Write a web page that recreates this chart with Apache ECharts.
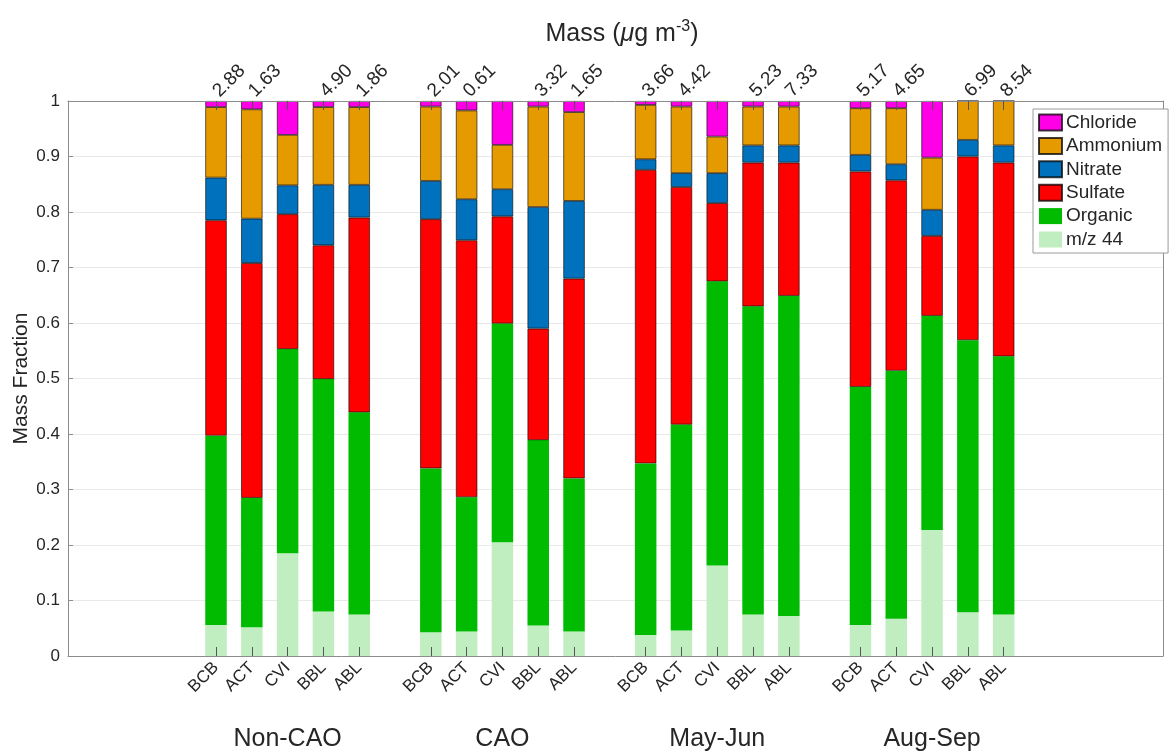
<!DOCTYPE html>
<html>
<head>
<meta charset="utf-8">
<script src="https://cdn.jsdelivr.net/npm/echarts@6/dist/echarts.min.js"></script>
<style>
html,body{margin:0;padding:0;background:#fff;}
#chart{width:1174px;height:751px;}
</style>
</head>
<body>
<div id="chart"></div>
<script>
// ---- data ----
const groups = ['Non-CAO', 'CAO', 'May-Jun', 'Aug-Sep'];
const sites = ['BCB', 'ACT', 'CVI', 'BBL', 'ABL'];
const massValues = [2.88, 1.63, null, 4.90, 1.86,
                    2.01, 0.61, null, 3.32, 1.65,
                    3.66, 4.42, null, 5.23, 7.33,
                    5.17, 4.65, null, 6.99, 8.54];
const mz44 = [0.056, 0.052, 0.185, 0.080, 0.075,
              0.043, 0.044, 0.205, 0.055, 0.044,
              0.038, 0.046, 0.163, 0.075, 0.072,
              0.056, 0.067, 0.227, 0.079, 0.075];
const organic = [0.341, 0.233, 0.368, 0.419, 0.364,
                 0.295, 0.242, 0.394, 0.334, 0.276,
                 0.309, 0.371, 0.512, 0.555, 0.577,
                 0.429, 0.447, 0.386, 0.490, 0.465];
const sulfate = [0.388, 0.423, 0.243, 0.241, 0.351,
                 0.449, 0.463, 0.193, 0.201, 0.360,
                 0.529, 0.428, 0.141, 0.259, 0.240,
                 0.388, 0.343, 0.144, 0.331, 0.349];
const nitrate = [0.077, 0.080, 0.052, 0.109, 0.059,
                 0.069, 0.074, 0.049, 0.219, 0.140,
                 0.019, 0.025, 0.054, 0.031, 0.031,
                 0.030, 0.029, 0.047, 0.030, 0.031];
const ammonium = [0.127, 0.197, 0.091, 0.140, 0.140,
                  0.134, 0.160, 0.080, 0.181, 0.160,
                  0.098, 0.120, 0.066, 0.070, 0.070,
                  0.084, 0.101, 0.094, 0.070, 0.080];
const chloride = [0.011, 0.015, 0.061, 0.011, 0.011,
                  0.010, 0.017, 0.079, 0.010, 0.020,
                  0.007, 0.010, 0.064, 0.010, 0.010,
                  0.013, 0.013, 0.102, 0.000, 0.000];
const yTicks = ['0', '0.1', '0.2', '0.3', '0.4', '0.5', '0.6', '0.7', '0.8', '0.9', '1'];

// ---- layout helpers ----
const FONT = '"Liberation Sans", Arial, Helvetica, sans-serif';
const TXT = '#262626';
const XMIN = -3.134, XMAX = 27.45;
const xPos = [];
const xLabel = {};
const xMass = {};
groups.forEach((g, gi) => sites.forEach((s, si) => {
  const x = gi * 6 + si + 1;
  const k = gi * sites.length + si;
  xPos.push(x);
  xLabel[x] = s;
  xMass[x] = massValues[k] == null ? '' : massValues[k].toFixed(2);
}));
const groupPos = groups.map((g, gi) => gi * 6 + 3);
const groupLabel = {};
groups.forEach((g, gi) => { groupLabel[gi * 6 + 3] = g; });

const seriesDefs = [
  { name: 'm/z 44', data: mz44, color: '#c1eec1', border: false },
  { name: 'Organic', data: organic, color: '#00bb00', border: false },
  { name: 'Sulfate', data: sulfate, color: '#ff0000', border: true },
  { name: 'Nitrate', data: nitrate, color: '#0072bd', border: true },
  { name: 'Ammonium', data: ammonium, color: '#e59a00', border: true },
  { name: 'Chloride', data: chloride, color: '#ff00e6', border: true }
];

const chart = echarts.init(document.getElementById('chart'), null, { renderer: 'canvas' });
const boxLine = { show: true, onZero: false, lineStyle: { color: '#8c8c8c', width: 1 } };

chart.setOption({
  animation: false,
  textStyle: { fontFamily: FONT },
  title: {
    left: 617, top: 14, textAlign: 'center',
    text: '{t|Mass (}{mu|\u03bc}{t|g m}{sup|-3}{t|)}',
    textStyle: {
      fontWeight: 'normal',
      rich: {
        t: { fontSize: 25, color: TXT, fontFamily: FONT, lineHeight: 30, fontWeight: 'normal' },
        mu: { fontSize: 25, color: TXT, fontFamily: FONT, fontStyle: 'italic', lineHeight: 30, fontWeight: 'normal' },
        sup: { fontSize: 16, color: TXT, fontFamily: FONT, lineHeight: 16, verticalAlign: 'top', fontWeight: 'normal' }
      }
    }
  },
  legend: {
    orient: 'vertical',
    left: 1033, top: 109,
    padding: [4, 6, 4, 5],
    itemWidth: 23, itemHeight: 16, itemGap: 4.4,
    borderColor: '#9a9a9a', borderWidth: 1,
    backgroundColor: '#fff',
    icon: 'rect',
    data: ['Chloride', 'Ammonium', 'Nitrate', 'Sulfate', 'Organic', 'm/z 44'],
    textStyle: { fontSize: 19, color: TXT, fontFamily: FONT, padding: [0, 0, 0, -1] }
  },
  grid: { left: 68, right: 11, top: 101, bottom: 95, containLabel: false, outerBoundsMode: 'none' },
  xAxis: [
    {
      type: 'value', position: 'bottom', min: XMIN, max: XMAX, z: 5,
      axisLine: boxLine,
      splitLine: { show: false },
      axisTick: { show: true, inside: true, length: 9, customValues: xPos, lineStyle: { color: '#555' } },
      axisLabel: {
        show: true, customValues: xPos, rotate: 45, margin: 9,
        fontSize: 17, color: TXT, fontFamily: FONT,
        formatter: v => xLabel[Math.round(v)] || ''
      }
    },
    {
      type: 'value', position: 'bottom', offset: 71, min: XMIN, max: XMAX,
      axisLine: { show: false, onZero: false }, splitLine: { show: false }, axisTick: { show: false },
      axisLabel: {
        show: true, customValues: groupPos, margin: 0,
        fontSize: 25, color: TXT, fontFamily: FONT,
        formatter: v => groupLabel[Math.round(v)] || ''
      }
    },
    {
      type: 'value', position: 'top', min: XMIN, max: XMAX, z: 5,
      axisLine: boxLine, splitLine: { show: false },
      axisTick: { show: true, inside: true, length: 9, customValues: xPos, lineStyle: { color: '#555' } },
      axisLabel: {
        show: true, customValues: xPos, rotate: -45, margin: 7,
        fontSize: 19, color: TXT, fontFamily: FONT,
        formatter: v => xMass[Math.round(v)] || ''
      }
    }
  ],
  yAxis: [
    {
      type: 'value', min: 0, max: 1, interval: 0.1,
      name: 'Mass Fraction', nameLocation: 'middle', nameGap: 36, nameMoveOverlap: false,
      nameTextStyle: { fontSize: 21, color: TXT, fontFamily: FONT },
      axisLine: boxLine,
      axisTick: { show: true, inside: true, length: 5, lineStyle: { color: '#8c8c8c' } },
      axisLabel: {
        fontSize: 17, color: TXT, fontFamily: FONT, margin: 8,
        formatter: (v) => yTicks[Math.round(v * 10)]
      },
      splitLine: { show: true, lineStyle: { color: '#e9e9e9', width: 1 } }
    },
    {
      type: 'value', min: 0, max: 1, interval: 0.1, position: 'right',
      axisLine: boxLine,
      axisTick: { show: false }, axisLabel: { show: false }, splitLine: { show: false }
    }
  ],
  series: seriesDefs.map(d => ({
    name: d.name,
    type: 'bar',
    stack: 'frac',
    xAxisIndex: 0, yAxisIndex: 0,
    barWidth: 21.5,
    dimensions: ['frac', 'pos'],
    encode: { x: 1, y: 0 },
    itemStyle: {
      color: d.color,
      borderColor: d.border ? 'rgba(0,0,0,0.75)' : d.color,
      borderWidth: d.border ? 0.8 : 0
    },
    data: d.data.map((v, i) => [v, xPos[i]])
  }))
});
</script>
</body>
</html>
